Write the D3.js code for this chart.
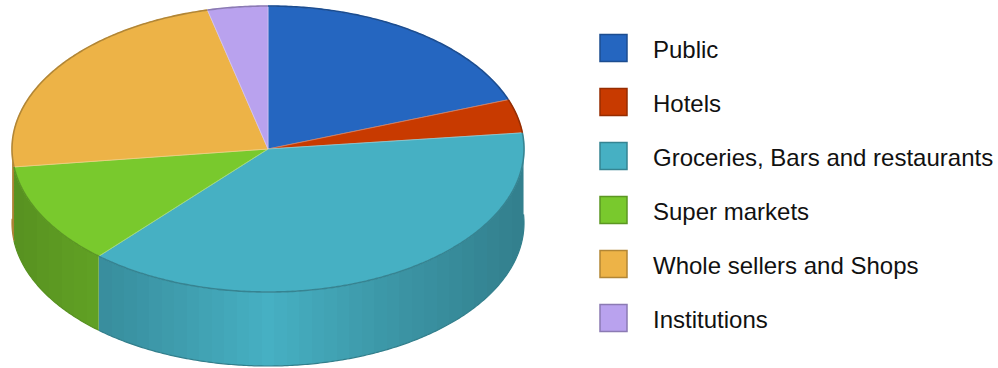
<!DOCTYPE html>
<html>
<head>
<meta charset="utf-8">
<script src="https://cdn.jsdelivr.net/npm/d3@7"></script>
<style>
  html, body { margin: 0; padding: 0; background: #fff; }
  svg { display: block; }
  text { font-family: "Liberation Sans", Arial, sans-serif; fill: #111; }
</style>
</head>
<body>
<svg id="chart" width="998" height="368"></svg>
<script>
const categories = ["Public", "Hotels", "Groceries, Bars and restaurants", "Super markets", "Whole sellers and Shops", "Institutions"];
const values = [19.4, 3.8, 38.3, 11.5, 23.2, 3.8];
const colors = ["#2566c0", "#c83a00", "#46b0c3", "#79c92d", "#edb347", "#b9a2ee"];

const width = 998, height = 368;
const cx = 268, cy = 149, rx = 256, ry = 143, depth = 74;

const svg = d3.select("#chart");
const defs = svg.append("defs");

// Elliptical projection of the tilted disc: angle runs clockwise from 12 o'clock.
const xUnit = d3.scaleLinear().domain([-1, 1]).range([cx - rx, cx + rx]);
const yUnit = d3.scaleLinear().domain([-1, 1]).range([cy - ry, cy + ry]);
const px = a => xUnit(Math.sin(a));
const py = (a, drop = 0) => yUnit(-Math.cos(a)) + drop;

const arcs = d3.pie().sort(null).value(d => d)(values);

function rimPoints(a0, a1, drop) {
  const n = Math.max(2, Math.ceil((a1 - a0) / 0.01));
  return d3.range(n + 1).map(i => {
    const a = a0 + (a1 - a0) * i / n;
    return [px(a), py(a, drop)];
  });
}
const line = d3.line();

const scaleColor = (c, k) => { const r = d3.rgb(c); return d3.rgb(r.r * k, r.g * k, r.b * k).formatHex(); };

// Banded shading across the wall: brightest under the centre, darker to both sides.
const shade = d3.scaleLinear().domain([-1, -0.55, 0, 0.45, 1]).range([0.72, 0.83, 1, 0.86, 0.72]);
const bandCount = 41;
colors.forEach((c, i) => {
  const g = defs.append("linearGradient")
    .attr("id", "wall" + i)
    .attr("gradientUnits", "userSpaceOnUse")
    .attr("x1", cx - rx).attr("x2", cx + rx).attr("y1", 0).attr("y2", 0);
  d3.range(bandCount).forEach(b => {
    const t = (b + 0.5) / bandCount * 2 - 1;
    const col = scaleColor(c, shade(t));
    g.append("stop").attr("offset", b / bandCount).attr("stop-color", col);
    g.append("stop").attr("offset", (b + 1) / bandCount).attr("stop-color", col);
  });
});

// Side walls of the slices whose rim faces the viewer.
const wallLayer = svg.append("g");
arcs.forEach((d, i) => {
  const a0 = Math.max(d.startAngle, Math.PI / 2 - 0.06);
  const a1 = Math.min(d.endAngle, 3 * Math.PI / 2 + 0.03);
  if (a1 <= a0) return;
  const top = rimPoints(a0, a1, 0);
  const bottom = rimPoints(a0, a1, depth).reverse();
  wallLayer.append("path")
    .attr("d", line(top.concat(bottom)) + "Z")
    .attr("fill", `url(#wall${i})`);
  wallLayer.append("path")
    .attr("d", line(rimPoints(a0, a1, depth)))
    .attr("fill", "none")
    .attr("stroke", scaleColor(colors[i], 0.72))
    .attr("stroke-width", 1.2);
});

// Top face of each slice with a pale seam along its radii.
const topLayer = svg.append("g");
arcs.forEach((d, i) => {
  const rim = rimPoints(d.startAngle, d.endAngle, 0);
  topLayer.append("path")
    .attr("d", line([[cx, cy]].concat(rim)) + "Z")
    .attr("fill", colors[i])
    .attr("stroke", d3.interpolateRgb(colors[i], "#fff")(0.35))
    .attr("stroke-width", 0.8)
    .attr("stroke-linejoin", "round");
});
arcs.forEach((d, i) => {
  topLayer.append("path")
    .attr("d", line(rimPoints(d.startAngle, d.endAngle, 0)))
    .attr("fill", "none")
    .attr("stroke", scaleColor(colors[i], 0.75))
    .attr("stroke-width", 1.6);
});

// Legend column.
const rowY = d3.scalePoint().domain(categories).range([47.5, 317.5]);
const legend = svg.append("g");
const rows = legend.selectAll("g").data(categories).join("g")
  .attr("transform", d => `translate(0,${rowY(d)})`);
rows.append("rect")
  .attr("x", 600).attr("y", -13).attr("width", 27).attr("height", 27)
  .attr("fill", (d, i) => colors[i])
  .attr("stroke", (d, i) => scaleColor(colors[i], 0.75))
  .attr("stroke-width", 1.5);
rows.append("text")
  .attr("x", 653).attr("y", 10)
  .attr("font-size", 24)
  .text(d => d);
</script>
</body>
</html>
